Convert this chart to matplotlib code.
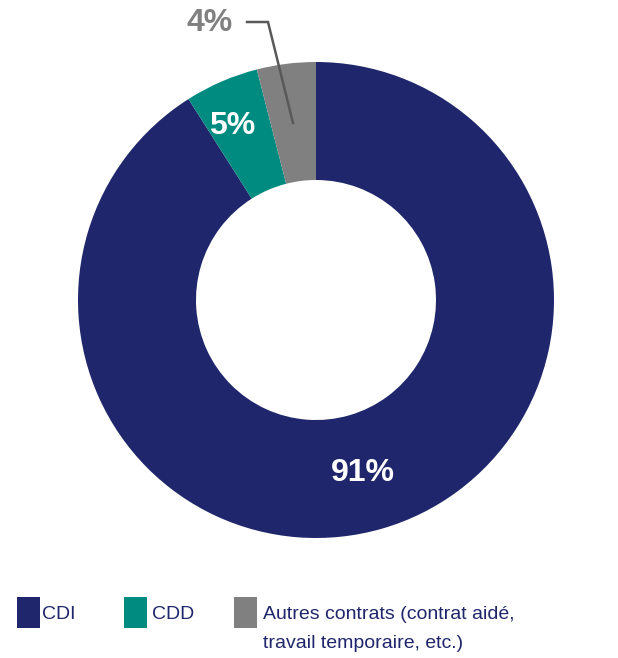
import matplotlib.pyplot as plt
from matplotlib.patches import Rectangle

# contrats de travail
categories = ["CDI", "CDD", "Autres contrats (contrat aidé,\ntravail temporaire, etc.)"]
parts = [91, 5, 4]
etiquettes = ["91%", "5%", "4%"]
couleurs = ["#1f266b", "#008b80", "#808080"]

plt.rcParams['font.family'] = ['Liberation Sans', 'DejaVu Sans']

W, H = 618, 658
fig = plt.figure(figsize=(W / 100, H / 100), dpi=100)
ax = fig.add_axes([0, 0, 1, 1])

cx, cy = 316, H - 300
rayon = 238
wedges, _ = ax.pie(parts, colors=couleurs, startangle=90, counterclock=False,
                   center=(cx, cy), radius=rayon,
                   wedgeprops=dict(width=118, linewidth=0))
ax.set_xlim(0, W)
ax.set_ylim(0, H)
ax.set_aspect('equal')
ax.axis('off')

# étiquettes des pourcentages
ax.text(363, H - 473, etiquettes[0], color='white', fontsize=23, fontweight='bold',
        ha='center', va='center')
ax.text(232, H - 126, etiquettes[1], color='white', fontsize=23, fontweight='bold',
        ha='center', va='center')
ax.text(210, H - 23, etiquettes[2], color='#808080', fontsize=23, fontweight='bold',
        ha='center', va='center')
ax.plot([247, 268, 293], [H - 22, H - 22, H - 123], color='#595959', linewidth=1.8,
        solid_joinstyle='miter')

# légende
pos_carre = [17, 124, 234]
pos_texte = [42, 152, 263]
for i in range(len(categories)):
    ax.add_patch(Rectangle((pos_carre[i], H - 628), 23, 31, color=couleurs[i], lw=0))
    for j, ligne in enumerate(categories[i].split("\n")):
        ax.text(pos_texte[i], H - 619 - 29 * j, ligne, color='#1f266b', fontsize=14,
                ha='left', va='baseline')

fig.savefig("out.png", dpi=100)
plt.close()
